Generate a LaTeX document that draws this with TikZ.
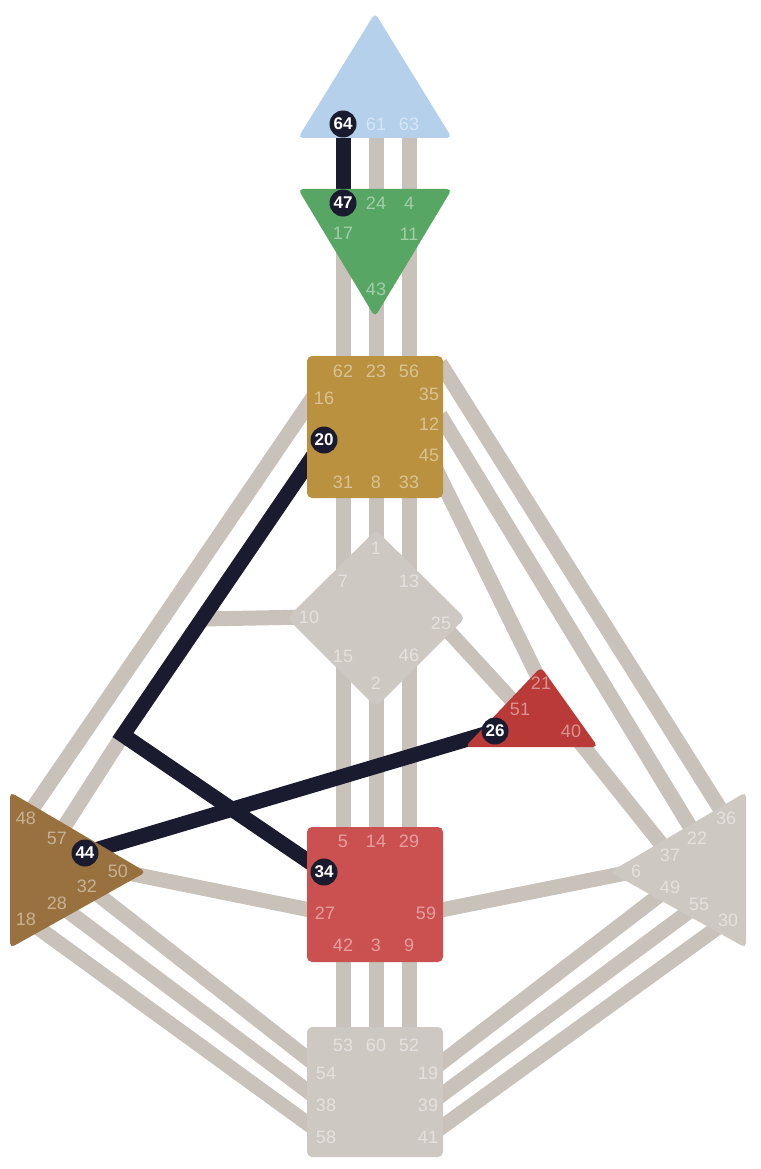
\documentclass[tikz,border=0pt]{standalone}
\usepackage{fontspec}
\setmainfont{Liberation Sans}
\usetikzlibrary{positioning}

\definecolor{headblue}{HTML}{B4D0EA}
\definecolor{ajnagreen}{HTML}{57A663}
\definecolor{throatgold}{HTML}{B9913F}
\definecolor{egored}{HTML}{BA3A38}
\definecolor{spleenbrown}{HTML}{98713F}
\definecolor{sacralred}{HTML}{CB5150}
\definecolor{opengrey}{HTML}{CEC8C2}
\definecolor{changrey}{HTML}{C8C2BB}
\definecolor{ink}{HTML}{1B1B2F}

\tikzset{
  chan/.style={line width=15pt, color=changrey},
  livechan/.style={line width=15pt, color=ink},
  centre/.style={rounded corners=5pt},
  gate/.style={text=white, text opacity=0.45, inner sep=0pt, font=\fontsize{18}{18}\selectfont},
  actgate/.style={circle, fill=ink, text=white, inner sep=0pt, minimum size=27pt, font=\bfseries\fontsize{17}{17}\selectfont}
}

\begin{document}
\begin{tikzpicture}[x=1pt,y=-1pt]
\useasboundingbox (0,0) rectangle (760,1169);

% gate positions
\foreach \g/\x/\y in {64/343/124, 61/376/124, 63/409/124,
  47/343/203, 24/376/203, 4/409/203, 17/343/233, 11/409/234, 43/376/289,
  62/343/371, 23/376/371, 56/409/371, 16/324/398, 20/324/440,
  35/429/394, 12/429/424, 45/429/455, 31/343/482, 8/376/482, 33/409/482,
  1/376/548, 7/343/581, 13/409/581, 10/309/617, 25/441/623,
  15/343/656, 46/409/655, 2/376/683,
  21/541/683, 51/520/709, 26/495/731, 40/571/731,
  48/26/818, 57/57/838, 44/85/853, 50/118/871, 32/87/886, 28/57/903, 18/26/919,
  5/343/841, 14/376/841, 29/409/841, 34/324/872, 27/325/913, 59/426/913,
  42/343/945, 3/376/945, 9/409/945,
  36/726/818, 22/697/838, 37/670/855, 6/636/871, 49/670/887, 55/699/904, 30/728/920,
  53/343/1045, 60/376/1045, 52/409/1045, 54/326/1073, 19/428/1073,
  38/326/1105, 39/428/1105, 58/326/1137, 41/428/1137}
  \coordinate (g\g) at (\x,\y);

\coordinate (p16) at (318,390);
\coordinate (k16) at (165,615);
\coordinate (jn) at (123,735);
\coordinate (j10) at (202,619);
\coordinate (p35) at (440,363);
\coordinate (p12) at (440,415);

% open channels
\draw[chan] (g61)--(g24);
\draw[chan] (g63)--(g4);
\draw[chan] (g17)--(g62);
\draw[chan] (g43)--(g23);
\draw[chan] (g11)--(g56);
\draw[chan] (g31)--(g7);
\draw[chan] (g8)--(g1);
\draw[chan] (g33)--(g13);
\draw[chan] (g15)--(g5);
\draw[chan] (g2)--(g14);
\draw[chan] (g46)--(g29);
\draw[chan] (g42)--(g53);
\draw[chan] (g3)--(g60);
\draw[chan] (g9)--(g52);

\draw[chan] (p16)--(k16)--(g48);
\draw[chan] (g20)--(jn)--(g57);
\draw[chan] (g10)--(j10);
\draw[chan] (g50)--(g27);
\draw[chan] (g32)--(g54);
\draw[chan] (g28)--(g38);
\draw[chan] (g18)--(g58);

\draw[chan] (p35)--(g36);
\draw[chan] (p12)--(g22);
\draw[chan] (g45)--(g21);
\draw[chan] (g25)--(g51);
\draw[chan] (g40)--(g37);
\draw[chan] (g59)--(g6);
\draw[chan] (g49)--(g19);
\draw[chan] (g55)--(g39);
\draw[chan] (g30)--(g41);

% defined channels
\draw[livechan] (g64)--(g47);
\draw[livechan] (g20)--(jn)--(g34);
\draw[livechan] (g44)--(g26);

% centres
\fill[centre, headblue] (375,13)--(452,138)--(298,138)--cycle;
\fill[centre, ajnagreen] (298,189)--(452,189)--(375,317)--cycle;
\fill[centre, throatgold] (307,356) rectangle (443,498);
\fill[centre, opengrey] (376,530)--(465,618)--(376,707)--(287,618)--cycle;
\fill[centre, egored] (541,667)--(598,747)--(465,747)--cycle;
\fill[centre, spleenbrown] (10,792)--(146,872)--(10,948)--cycle;
\fill[centre, sacralred] (307,827) rectangle (443,962);
\fill[centre, opengrey] (746,792)--(746,948)--(610,872)--cycle;
\fill[centre, opengrey] (307,1027) rectangle (443,1157);

% gates
\foreach \g in {61,63,24,4,17,11,43,62,23,56,16,35,12,45,31,8,33,
  1,7,13,10,25,15,46,2,21,51,40,48,57,50,32,28,18,
  5,14,29,27,59,42,3,9,36,22,37,6,49,55,30,53,60,52,54,19,38,39,58,41}
  \node[gate] at (g\g) {\g};
\foreach \g in {64,47,20,26,44,34}
  \node[actgate] at (g\g) {\g};
\end{tikzpicture}
\end{document}
